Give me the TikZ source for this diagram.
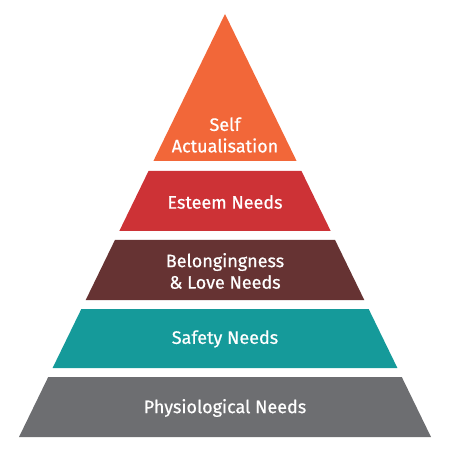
\documentclass[tikz,border=0pt]{standalone}
\usepackage{fontspec}
\setmainfont{Fira Sans}
\newfontfamily\tierfont[FakeBold=0.6]{Fira Sans}
\definecolor{tierOrange}{HTML}{F26739}
\definecolor{tierRed}{HTML}{CD3236}
\definecolor{tierMaroon}{HTML}{663333}
\definecolor{tierTeal}{HTML}{159A9A}
\definecolor{tierGray}{HTML}{6D6E71}
\begin{document}
\begin{tikzpicture}[x=1pt, y=1pt, every node/.style={font=\tierfont\fontsize{18}{21.5}\selectfont, text=white, align=center}]
      \useasboundingbox (0,0) rectangle (452,450);
      % Tiers: bottom, top, colour (half width shrinks toward the apex)
      \foreach \yb/\yt/\col in {289/436/tierOrange, 219/279/tierRed, 150/210/tierMaroon, 82/141/tierTeal, 13/73/tierGray} {
            \fill[\col] ({225-0.487*(436-\yb)},\yb) -- ({225+0.487*(436-\yb)},\yb)
                  -- ({225+0.487*(436-\yt)},\yt) -- ({225-0.487*(436-\yt)},\yt) -- cycle;
      }
      % Labels
      \node (self) at (225,315) {Self\\Actualisation};
      \node (esteem) at (225,248) {Esteem Needs};
      \node (belong) at (225,179) {Belongingness\\\& Love Needs};
      \node (safety) at (225,111) {Safety Needs};
      \node (physio) at (225,42) {Physiological Needs};
\end{tikzpicture}
\end{document}
